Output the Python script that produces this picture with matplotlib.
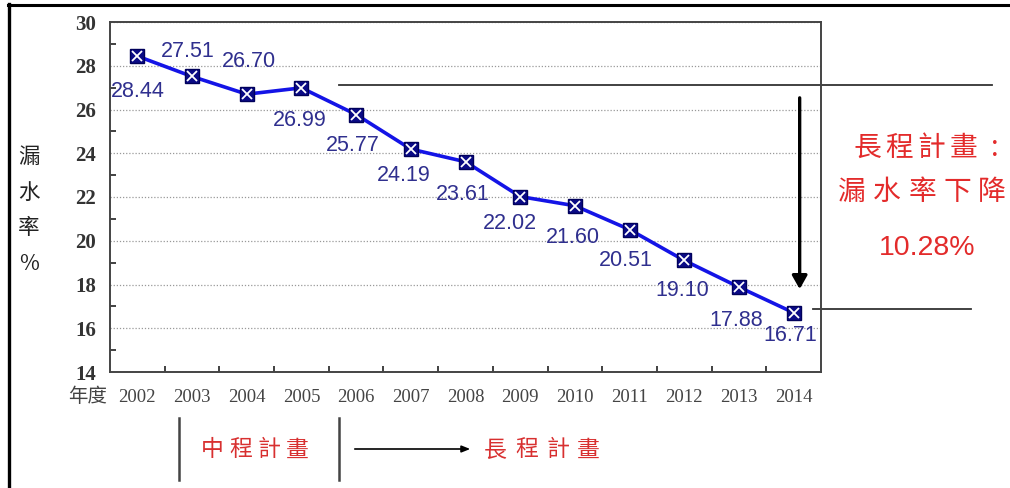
import matplotlib
matplotlib.use('Agg')
import matplotlib.pyplot as plt
from matplotlib.ticker import MultipleLocator, FixedLocator

W, H = 1010, 488
CJK = ['Noto Sans CJK TC', 'DejaVu Sans']
SERIF = ['Liberation Serif', 'DejaVu Serif']
SANS = ['Liberation Sans', 'DejaVu Sans']

years = ['2002', '2003', '2004', '2005', '2006', '2007', '2008',
         '2009', '2010', '2011', '2012', '2013', '2014']
leak_rate = [28.44, 27.51, 26.70, 26.99, 25.77, 24.19, 23.61,
             22.02, 21.60, 20.51, 19.10, 17.88, 16.71]
# where each value label sits, in pixels from its point
label_offsets = [(0, -35), (-4, 25), (2, 33), (-2, -33), (-3, -31), (-7, -26), (-3, -33),
                 (-10, -27), (-2, -32), (-4, -31), (-2, -30), (-3, -33), (-3, -23)]
y_title = ['漏', '水', '率', '%']
long_plan = '長程計畫:'
long_drop = '漏水率下降'
drop_pct = '10.28%'
mid_name = '中程計畫'
long_name = '長程計畫'

fig = plt.figure(figsize=(W / 100, H / 100), dpi=100)
fig.patch.set_facecolor('white')

# overlay in pixel coords for frame and free text
ov = fig.add_axes([0, 0, 1, 1])
ov.set_xlim(0, W)
ov.set_ylim(H, 0)
ov.axis('off')
ov.patch.set_alpha(0)

ax = fig.add_axes([110 / W, 1 - 372 / H, 711 / W, 350 / H])
x = list(range(len(years)))
ax.plot(x, leak_rate, color='#1414e6', lw=2.6, zorder=3)
ax.plot(x, leak_rate, ls='none', marker='s', ms=9.5, mfc='#0a0a86', mec='#00005a', mew=1, zorder=4)
ax.plot(x, leak_rate, ls='none', marker='x', ms=7.5, mec='white', mew=1.3, zorder=5)

for xi, v, off in zip(x, leak_rate, label_offsets):
    ax.annotate(f'{v:.2f}', (xi, v), xytext=off, textcoords='offset pixels',
                ha='center', va='center', fontsize=15.5, color='#2f2f8e',
                family=SANS, zorder=6, annotation_clip=False)

ax.set_xlim(-0.5, len(years) - 0.5)
ax.set_ylim(14, 30)
ax.set_xticks(x)
ax.set_xticklabels(years, family=SERIF, fontsize=13.5, color='#444444')
ax.xaxis.set_minor_locator(FixedLocator([i + 0.5 for i in x[:-1]]))
ax.tick_params(axis='x', which='major', length=0, pad=12)
ax.tick_params(axis='x', which='minor', direction='in', length=4, width=1.3, color='#333333')

ax.yaxis.set_major_locator(MultipleLocator(2))
ax.yaxis.set_minor_locator(MultipleLocator(1))
ax.tick_params(axis='y', which='major', length=0, pad=10, labelsize=15, labelcolor='#333333')
ax.tick_params(axis='y', which='minor', direction='in', length=4, width=1.3, color='#333333')
for lab in ax.get_yticklabels():
    lab.set_family(SERIF)
    lab.set_fontweight('bold')
ax.yaxis.grid(True, which='major', ls=(0, (1, 1.5)), color='#999999', lw=0.9)
for s in ax.spines.values():
    s.set_color('#444444')
    s.set_linewidth(1.4)

# reference lines and drop arrow
ax.plot([3.69, 15.62], [leak_rate[3] + 0.13, leak_rate[3] + 0.13], color='#333333', lw=1.3,
        clip_on=False, zorder=2)
ax.plot([12.35, 15.25], [leak_rate[-1] + 0.17, leak_rate[-1] + 0.17], color='#333333', lw=1.3,
        clip_on=False, zorder=2)
ax.annotate('', xy=(12.11, leak_rate[-1] + 0.95), xytext=(12.11, leak_rate[3] - 0.33),
            arrowprops=dict(arrowstyle='-|>,head_width=0.45,head_length=0.8', color='black', lw=2.4),
            annotation_clip=False)

# frame of the picture
ov.plot([8.5, 8.5], [4, H], color='black', lw=2.4)
ov.plot([8, W], [5, 5], color='black', lw=2.2)


def spaced(cx, cy, s, pitch, **kw):
    n = len(s)
    for i, ch in enumerate(s):
        ov.text(cx + (i - (n - 1) / 2) * pitch, cy, ch, ha='center', va='center', **kw)


# y title, one character per row
for i, ch in enumerate(y_title):
    ov.text(29, 157 + 35.5 * i, ch, ha='center', va='center', fontsize=15.5, color='#222222', family=CJK)
ov.text(88, 397, '年度', ha='center', va='center', fontsize=14, color='#444444', family=CJK)

spaced(931, 148, long_plan, 32, fontsize=20, color='#e32b2b', family=CJK)
spaced(922, 192, long_drop, 35, fontsize=20, color='#e32b2b', family=CJK)
ov.text(927, 248, drop_pct, ha='center', va='center', fontsize=20.5, color='#e32b2b', family=SANS)

# plan periods below the axis
ov.plot([179, 179], [418, 480], color='#444444', lw=1.8)
ov.plot([339, 339], [418, 480], color='#444444', lw=1.8)
spaced(255, 450, mid_name, 28.5, fontsize=16.5, color='#d83030', family=CJK)
ov.annotate('', xy=(473, 449), xytext=(352, 449),
            arrowprops=dict(arrowstyle='-|>,head_width=0.2,head_length=0.5', color='black', lw=1.2))
spaced(542, 450, long_name, 31, fontsize=16.5, color='#d83030', family=CJK)

fig.savefig('out.png', dpi=100, facecolor='white')
